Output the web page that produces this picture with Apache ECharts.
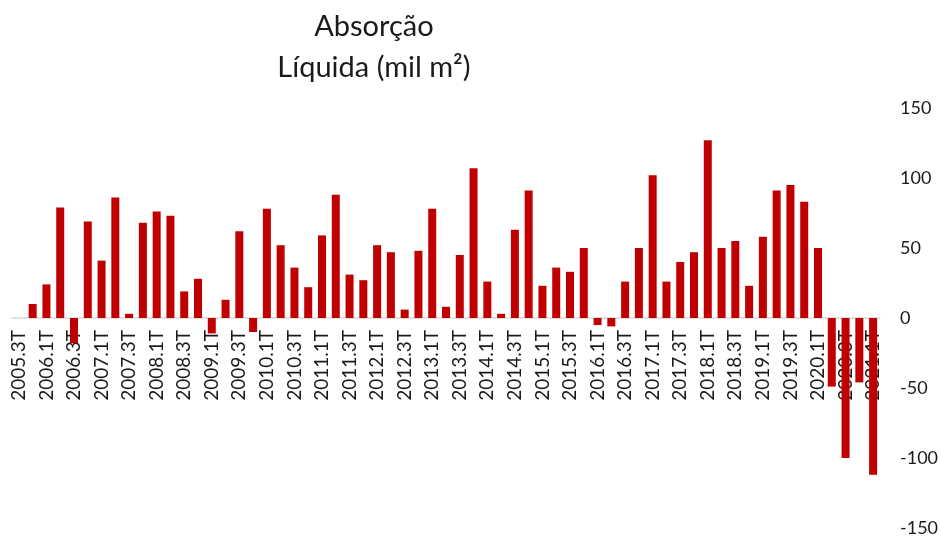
<!DOCTYPE html>
<html>
<head>
<meta charset="utf-8">
<script src="https://cdn.jsdelivr.net/npm/echarts@6/dist/echarts.min.js"></script>
<style>
  html, body { margin: 0; padding: 0; background: #fff; }
  #chart { width: 941px; height: 536px; }
</style>
</head>
<body>
<div id="chart"></div>
<script>
var quarters = [
    "2005.3T", "2005.4T",
    "2006.1T", "2006.2T", "2006.3T", "2006.4T",
    "2007.1T", "2007.2T", "2007.3T", "2007.4T",
    "2008.1T", "2008.2T", "2008.3T", "2008.4T",
    "2009.1T", "2009.2T", "2009.3T", "2009.4T",
    "2010.1T", "2010.2T", "2010.3T", "2010.4T",
    "2011.1T", "2011.2T", "2011.3T", "2011.4T",
    "2012.1T", "2012.2T", "2012.3T", "2012.4T",
    "2013.1T", "2013.2T", "2013.3T", "2013.4T",
    "2014.1T", "2014.2T", "2014.3T", "2014.4T",
    "2015.1T", "2015.2T", "2015.3T", "2015.4T",
    "2016.1T", "2016.2T", "2016.3T", "2016.4T",
    "2017.1T", "2017.2T", "2017.3T", "2017.4T",
    "2018.1T", "2018.2T", "2018.3T", "2018.4T",
    "2019.1T", "2019.2T", "2019.3T", "2019.4T",
    "2020.1T", "2020.2T", "2020.3T", "2020.4T",
    "2021.1T"
];

// absorção líquida, mil m²
var absorcao = [
    0, 10,
    24, 79, -18, 69,
    41, 86, 3, 68,
    76, 73, 19, 28,
    -11, 13, 62, -10,
    78, 52, 36, 22,
    59, 88, 31, 27,
    52, 47, 6, 48,
    78, 8, 45, 107,
    26, 3, 63, 91,
    23, 36, 33, 50,
    -5, -6, 26, 50,
    102, 26, 40, 47,
    127, 50, 55, 23,
    58, 91, 95, 83,
    50, -49, -100, -46,
    -112
];

var yMin = -150;
var yMax = 150;
var yStep = 50;

var fontName = "Lato";

// plot area, px
var gridTop = 108;
var gridBottom = 8;
var plotHeight = 536 - gridTop - gridBottom;
// move the category axis up to the zero line
var zeroOffset = -plotHeight * (0 - yMin) / (yMax - yMin);

var myChart = echarts.init(document.getElementById('chart'));
var option = {
    animation: false,
    title: {
        text: 'Absorção\nLíquida (mil m²)',
        left: 'center',
        top: 1,
        textAlign: 'center',
        textStyle: {
            fontFamily: fontName,
            fontSize: 29,
            fontWeight: 'normal',
            color: '#1a1a1a',
            lineHeight: 41
        }
    },
    grid: {
        left: 12,
        right: 61,
        top: gridTop,
        bottom: gridBottom,
        containLabel: false,
        outerBoundsMode: 'none'
    },
    xAxis: {
        type: 'category',
        data: quarters,
        position: 'bottom',
        offset: zeroOffset,
        axisLine: {
            onZero: false,
            lineStyle: {color: '#d9d9d9', width: 1.5}
        },
        axisTick: {show: false},
        axisLabel: {
            rotate: 90,
            interval: 1,
            margin: 12,
            color: '#1a1a1a',
            fontFamily: fontName,
            fontSize: 19
        },
        z: 0
    },
    yAxis: {
        type: 'value',
        position: 'right',
        min: yMin,
        max: yMax,
        interval: yStep,
        axisLine: {show: false},
        axisTick: {show: false},
        splitLine: {show: false},
        axisLabel: {
            align: 'left',
            margin: 20,
            color: '#1a1a1a',
            fontFamily: fontName,
            fontSize: 18
        }
    },
    series: [
        {
            name: 'Absorção',
            type: 'bar',
            data: absorcao,
            barWidth: 8,
            itemStyle: {color: '#c00000'},
            z: 3
        }
    ]
};
myChart.setOption(option);
</script>
</body>
</html>
